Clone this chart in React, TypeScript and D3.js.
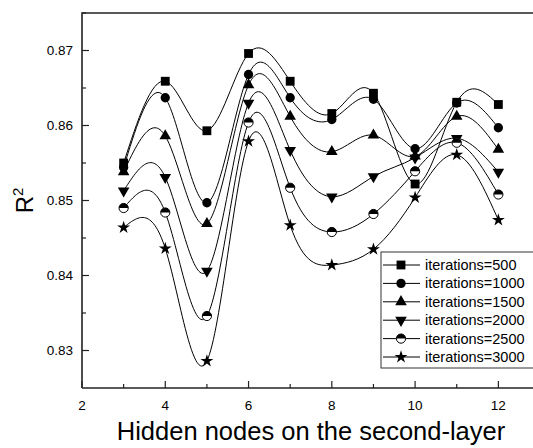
import React, { useEffect, useRef } from 'react';
import * as d3 from 'd3';

// hidden nodes on the second layer
const nodes = [3, 4, 5, 6, 7, 8, 9, 10, 11, 12];

const it500 = [0.8550, 0.8659, 0.8593, 0.8696, 0.8659, 0.8616, 0.8643, 0.8522, 0.8631, 0.8628];
const it1000 = [0.8544, 0.8637, 0.8497, 0.8668, 0.8637, 0.8608, 0.8635, 0.8569, 0.8630, 0.8597];
const it1500 = [0.8538, 0.8586, 0.8469, 0.8654, 0.8612, 0.8565, 0.8587, 0.8559, 0.8612, 0.8568];
const it2000 = [0.8513, 0.8531, 0.8406, 0.8630, 0.8567, 0.8505, 0.8532, 0.8557, 0.8583, 0.8538];
const it2500 = [0.8490, 0.8484, 0.8346, 0.8604, 0.8517, 0.8458, 0.8482, 0.8539, 0.8577, 0.8508];
const it3000 = [0.8464, 0.8436, 0.8286, 0.8579, 0.8467, 0.8414, 0.8435, 0.8504, 0.8561, 0.8474];

const seriesNames = ['iterations=500', 'iterations=1000', 'iterations=1500', 'iterations=2000', 'iterations=2500', 'iterations=3000'];
const seriesValues = [it500, it1000, it1500, it2000, it2500, it3000];
const markerKinds = ['square', 'circle', 'triangle', 'triangleDown', 'halfCircle', 'star'];

const xTicks = [2, 4, 6, 8, 10, 12];
const yTicks = [0.83, 0.84, 0.85, 0.86, 0.87];

function drawMarker(g: any, kind: string, x: number, y: number) {
    if (kind === 'halfCircle') {
        const r = 4.6;
        g.append('circle').attr('cx', x).attr('cy', y).attr('r', r)
            .attr('fill', 'white').attr('stroke', 'black').attr('stroke-width', 1);
        g.append('path')
            .attr('d', `M${x - r},${y} A${r},${r} 0 0 1 ${x + r},${y} Z`)
            .attr('fill', 'black');
        return;
    }
    let sym: any = d3.symbolSquare, size = 78, rot = 0;
    if (kind === 'circle') { sym = d3.symbolCircle; size = 68; }
    if (kind === 'triangle') { sym = d3.symbolTriangle; size = 58; }
    if (kind === 'triangleDown') { sym = d3.symbolTriangle; size = 58; rot = 180; }
    if (kind === 'star') { sym = d3.symbolStar; size = 52; }
    g.append('path')
        .attr('d', d3.symbol().type(sym).size(size)())
        .attr('transform', `translate(${x},${y}) rotate(${rot})`)
        .attr('fill', 'black');
}

function App() {
    const chartRef = useRef<SVGSVGElement>(null);

    useEffect(() => {
        var left = 82, top = 13, right = 540, bottom = 388;

        var svg = d3.select(chartRef.current);
        svg.selectAll('*').remove();

        var x = d3.scaleLinear().domain([2, 13]).range([left, right]);
        var y = d3.scaleLinear().domain([0.825, 0.875]).range([bottom, top]);

        const font = 'Liberation Sans, Arial, sans-serif';

        // frame (right side falls outside the picture)
        svg.append('path')
            .attr('d', `M${left},${bottom} V${top} H${right}`)
            .attr('fill', 'none').attr('stroke', '#222').attr('stroke-width', 1.6);
        svg.append('line')
            .attr('x1', left).attr('x2', right).attr('y1', bottom).attr('y2', bottom)
            .attr('stroke', '#222').attr('stroke-width', 1.6);

        // x ticks (inward)
        d3.range(2, 13.01, 1).forEach(function (v) {
            var major = v % 2 === 0;
            svg.append('line')
                .attr('x1', x(v)).attr('x2', x(v))
                .attr('y1', bottom).attr('y2', bottom - (major ? 7 : 4))
                .attr('stroke', '#222').attr('stroke-width', 1.2);
        });
        svg.selectAll('.xlab').data(xTicks).enter().append('text')
            .attr('x', function (d) { return x(d); })
            .attr('y', bottom + 22)
            .attr('text-anchor', 'middle')
            .style('font-family', font).style('font-size', '13.5px')
            .text(function (d) { return d; });

        // y ticks (inward)
        d3.range(0.83, 0.8751, 0.005).forEach(function (v) {
            var major = Math.round(v * 1000) % 10 === 0;
            svg.append('line')
                .attr('x1', left).attr('x2', left + (major ? 7 : 4))
                .attr('y1', y(v)).attr('y2', y(v))
                .attr('stroke', '#222').attr('stroke-width', 1.2);
        });
        svg.selectAll('.ylab').data(yTicks).enter().append('text')
            .attr('x', left - 9)
            .attr('y', function (d) { return y(d) + 4.5; })
            .attr('text-anchor', 'end')
            .style('font-family', font).style('font-size', '13.5px')
            .text(function (d) { return d.toFixed(2); });

        // axis titles
        svg.append('text')
            .attr('x', 311).attr('y', 440)
            .attr('text-anchor', 'middle')
            .style('font-family', font).style('font-size', '25.5px')
            .text('Hidden nodes on the second-layer');
        var yt = svg.append('text')
            .attr('transform', `translate(33,${(top + bottom) / 2}) rotate(-90)`)
            .attr('text-anchor', 'middle')
            .style('font-family', font).style('font-size', '24px');
        yt.append('tspan').text('R');
        yt.append('tspan').attr('dy', -10).style('font-size', '15px').text('2');

        // lines
        var line = d3.line<number>()
            .x(function (d, i) { return x(nodes[i]); })
            .y(function (d) { return y(d); })
            .curve(d3.curveNatural);

        seriesValues.forEach(function (vals) {
            svg.append('path')
                .attr('d', line(vals))
                .attr('fill', 'none').attr('stroke', 'black').attr('stroke-width', 1);
        });
        seriesValues.forEach(function (vals, s) {
            var g = svg.append('g');
            vals.forEach(function (v, i) { drawMarker(g, markerKinds[s], x(nodes[i]), y(v)); });
        });

        // legend
        var lx = 381, ly = 252, rowH = 18.4;
        svg.append('rect')
            .attr('x', lx).attr('y', ly).attr('width', 180).attr('height', 116)
            .attr('fill', 'white').attr('stroke', '#333').attr('stroke-width', 1);
        seriesNames.forEach(function (name, s) {
            var cy = ly + 13 + s * rowH;
            var lg = svg.append('g');
            lg.append('line').attr('x1', lx + 2).attr('x2', lx + 39).attr('y1', cy).attr('y2', cy)
                .attr('stroke', 'black').attr('stroke-width', 1);
            drawMarker(lg, markerKinds[s], lx + 20, cy);
            lg.append('text').attr('x', lx + 44).attr('y', cy + 5)
                .style('font-family', font).style('font-size', '14.5px')
                .text(name);
        });
    }, []);

    return (
        <svg ref={chartRef} width={533} height={448}
            style={{ position: 'absolute', left: 0, top: 0, background: 'white' }} />
    );
}

export default App;
